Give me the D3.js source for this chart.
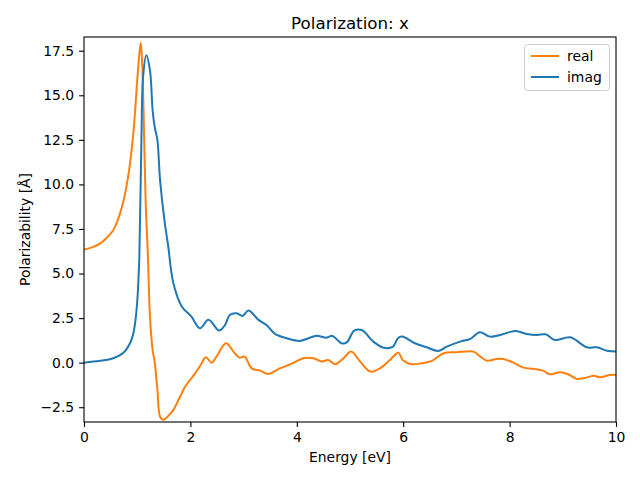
<!DOCTYPE html>
<html><head><meta charset="utf-8">
<script src="https://cdn.jsdelivr.net/npm/d3@7"></script>
<style>body{margin:0;background:#fff}svg{display:block}text{font-family:"DejaVu Sans",sans-serif;fill:#000}</style>
</head><body><svg id="c" width="640" height="480"></svg>
<script>
const realX = [0, 0.15, 0.3, 0.42, 0.55, 0.63, 0.71, 0.77, 0.83, 0.88, 0.93, 0.96, 0.99, 1.02, 1.04, 1.066, 1.085, 1.10, 1.13, 1.16, 1.20, 1.24, 1.29, 1.33, 1.38, 1.43, 1.49, 1.58, 1.68, 1.79, 1.90, 2.00, 2.09, 2.19, 2.29, 2.40, 2.49, 2.67, 2.81, 2.92, 3.02, 3.15, 3.31, 3.46, 3.68, 3.93, 4.12, 4.31, 4.47, 4.59, 4.72, 4.88, 5.02, 5.19, 5.38, 5.56, 5.75, 5.91, 5.99, 6.16, 6.35, 6.54, 6.76, 7.0, 7.32, 7.41, 7.57, 7.76, 7.88, 8.07, 8.26, 8.45, 8.63, 8.76, 8.95, 9.1, 9.26, 9.39, 9.58, 9.7, 9.89, 10];
const realY = [6.35, 6.47, 6.68, 6.98, 7.43, 7.95, 8.7, 9.45, 10.45, 11.55, 12.95, 14.1, 15.4, 16.6, 17.33, 17.93, 17.3, 16.4, 12.66, 8.92, 6.1, 2.58, 0.71, 0.0, -1.53, -3.03, -3.21, -3.0, -2.65, -2.0, -1.35, -0.95, -0.6, -0.15, 0.3, 0.0, 0.34, 1.09, 0.62, 0.28, 0.34, -0.32, -0.45, -0.63, -0.32, -0.03, 0.25, 0.25, 0.06, 0.15, -0.09, 0.25, 0.62, 0.06, -0.5, -0.32, 0.15, 0.56, 0.15, -0.09, -0.03, 0.1, 0.53, 0.58, 0.62, 0.43, 0.11, 0.21, 0.21, 0.0, -0.28, -0.35, -0.45, -0.65, -0.54, -0.65, -0.91, -0.88, -0.73, -0.82, -0.69, -0.69];
const imagX = [0, 0.3, 0.55, 0.74, 0.865, 0.92, 0.96, 1.0, 1.02, 1.04, 1.08, 1.11, 1.17, 1.24, 1.29, 1.33, 1.38, 1.43, 1.52, 1.58, 1.68, 1.84, 2.02, 2.18, 2.34, 2.54, 2.65, 2.74, 2.87, 2.98, 3.09, 3.28, 3.43, 3.59, 3.81, 4.06, 4.22, 4.37, 4.56, 4.67, 4.84, 4.94, 5.08, 5.22, 5.44, 5.63, 5.81, 5.90, 5.98, 6.22, 6.44, 6.66, 6.82, 7.07, 7.26, 7.44, 7.63, 7.82, 7.98, 8.12, 8.32, 8.51, 8.68, 8.85, 9.14, 9.45, 9.64, 9.83, 10];
const imagY = [0.0, 0.1, 0.25, 0.55, 1.09, 1.55, 2.2, 3.4, 4.45, 5.93, 12.66, 16.0, 17.24, 16.4, 14.15, 13.2, 12.47, 10.23, 7.8, 6.6, 4.45, 3.14, 2.58, 1.93, 2.4, 1.8, 2.11, 2.67, 2.77, 2.62, 2.92, 2.4, 2.11, 1.61, 1.37, 1.22, 1.37, 1.51, 1.4, 1.5, 1.09, 1.14, 1.8, 1.83, 1.18, 0.84, 0.9, 1.37, 1.46, 1.09, 0.86, 0.66, 0.9, 1.18, 1.33, 1.7, 1.46, 1.55, 1.7, 1.78, 1.61, 1.55, 1.59, 1.27, 1.42, 0.86, 0.86, 0.67, 0.62];
const xTicks = [0, 2, 4, 6, 8, 10];
const yTicks = [-2.5, 0, 2.5, 5, 7.5, 10, 12.5, 15, 17.5];
const seriesNames = ["real", "imag"];
const seriesColors = ["#ff7f0e", "#1f77b4"];

const svg = d3.select("#c");
const L = 84, R = 616, T = 37, B = 422;
const x = d3.scaleLinear().domain([0, 10]).range([L, R]);
const y = d3.scaleLinear().domain([-3.33, 18.27]).range([B, T]);
const fmt = v => (v < 0 ? "\u2212" : "") + Math.abs(v).toFixed(1);

const line = d3.line().x(d => x(d[0])).y(d => y(d[1])).curve(d3.curveCatmullRom.alpha(0.5));
svg.append("clipPath").attr("id", "clp").append("rect").attr("x", L).attr("y", T).attr("width", R - L).attr("height", B - T);
const g = svg.append("g").attr("clip-path", "url(#clp)");
const realData = realX.map((v, i) => [v, realY[i]]);
const imagData = imagX.map((v, i) => [v, imagY[i]]);
[realData, imagData].forEach((d, i) => {
  g.append("path").datum(d).attr("d", line).attr("fill", "none").attr("stroke", seriesColors[i]).attr("stroke-width", 2).attr("stroke-linejoin", "round");
});

const xa = svg.append("g").attr("transform", `translate(0,${B})`).call(d3.axisBottom(x).tickValues(xTicks).tickFormat(d3.format("d")).tickSize(4.9).tickPadding(4.9));
const ya = svg.append("g").attr("transform", `translate(${L},0)`).call(d3.axisLeft(y).tickValues(yTicks).tickFormat(fmt).tickSize(4.9).tickPadding(4.9));
[xa, ya].forEach(a => {
  a.select(".domain").remove();
  a.selectAll("line").attr("stroke", "#000").attr("stroke-width", 1.1);
  a.selectAll("text").style("font-size", "13.9px").style("font-family", "DejaVu Sans").attr("fill", "#000");
});
svg.append("rect").attr("x", L).attr("y", T).attr("width", R - L).attr("height", B - T).attr("fill", "none").attr("stroke", "#000").attr("stroke-width", 1.1);

svg.append("text").attr("x", (L + R) / 2).attr("y", 29).attr("text-anchor", "middle").style("font-size", "16.7px").text("Polarization: x");
svg.append("text").attr("x", (L + R) / 2).attr("y", 462).attr("text-anchor", "middle").style("font-size", "13.9px").text("Energy [eV]");
svg.append("text").attr("transform", `translate(30,${(T + B) / 2}) rotate(-90)`).attr("text-anchor", "middle").style("font-size", "13.9px").text("Polarizability [Å]");

const lg = svg.append("g");
lg.append("rect").attr("x", 524.5).attr("y", 44.5).attr("width", 85).attr("height", 46).attr("rx", 3).attr("fill", "#fff").attr("fill-opacity", 0.8).attr("stroke", "#ccc");
seriesNames.forEach((n, i) => {
  const yy = 56 + i * 21;
  lg.append("line").attr("x1", 531).attr("x2", 559).attr("y1", yy).attr("y2", yy).attr("stroke", seriesColors[i]).attr("stroke-width", 2);
  lg.append("text").attr("x", 567).attr("y", yy + 5).style("font-size", "13.9px").text(n);
});
</script></body></html>
